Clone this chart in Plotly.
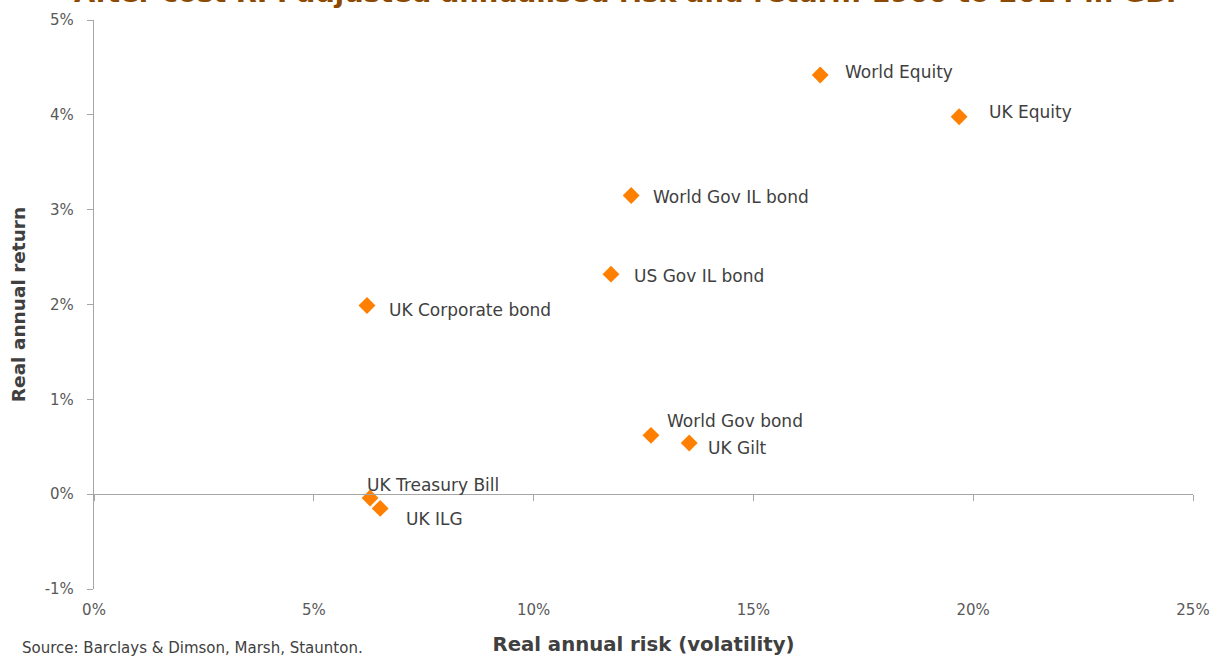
import plotly.graph_objects as go

assets = ["World Equity", "UK Equity", "World Gov IL bond", "US Gov IL bond",
          "UK Corporate bond", "World Gov bond", "UK Gilt", "UK Treasury Bill", "UK ILG"]
risk = [16.52, 19.68, 12.22, 11.76, 6.21, 12.67, 13.54, 6.28, 6.51]
ret = [4.42, 3.98, 3.15, 2.32, 1.99, 0.62, 0.54, -0.04, -0.15]

x_ticks = [0, 5, 10, 15, 20, 25]
x_tick_labels = ["0%", "5%", "10%", "15%", "20%", "25%"]
y_ticks = [-1, 0, 1, 2, 3, 4, 5]
y_tick_labels = ["-1%", "0%", "1%", "2%", "3%", "4%", "5%"]

# label offsets (pixels) for readability
label_dx = [23, 28, 20, 21, 20, 14, 17, -5, 24]
label_dy = [3, 5, -2, -2, -5, 14, -5, 13, -11]

FONT = "DejaVu Sans"

fig = go.Figure()
fig.add_trace(go.Scatter(
    x=risk, y=ret, mode="markers",
    marker=dict(symbol="diamond", size=13, color="#FF7F00"),
    hovertext=assets, showlegend=False,
))

# invisible trace on secondary x axis (zero line with ticks)
fig.add_trace(go.Scatter(x=[0, 25], y=[0, 0], xaxis="x2", mode="markers",
                         marker=dict(opacity=0), showlegend=False, hoverinfo="skip"))

for name, xv, yv, dx, dy in zip(assets, risk, ret, label_dx, label_dy):
    fig.add_annotation(x=xv, y=yv, text=name, showarrow=False,
                       xanchor="left", yanchor="middle", xshift=dx, yshift=dy,
                       font=dict(family=FONT, size=17, color="#404040"))

fig.add_annotation(xref="paper", yref="paper", x=-0.0673, y=-0.104,
                   xanchor="left", yanchor="middle", showarrow=False,
                   text="Source: Barclays & Dimson, Marsh, Staunton.",
                   font=dict(family=FONT, size=15, color="#404040"))

# title partially above the page edge, as in the reference
fig.add_annotation(xref="paper", yref="paper", x=0.4877, y=1.0176,
                   xanchor="center", yanchor="bottom", showarrow=False,
                   text="<b>After cost RPI adjusted annualised risk and return: 1900 to 2014 in GBP</b>",
                   font=dict(family=FONT, size=27.4, color="#8B4A00"))

fig.update_layout(
    width=1220, height=659,
    margin=dict(l=94, r=27, t=20, b=70, autoexpand=False),
    paper_bgcolor="white", plot_bgcolor="white",
    xaxis=dict(range=[0, 25], tickvals=x_ticks, ticktext=x_tick_labels,
               showline=False, showgrid=False, zeroline=False, ticks="",
               ticklabelstandoff=10, automargin=False,
               tickfont=dict(family=FONT, size=15, color="#595959"),
               title=dict(text="<b>Real annual risk (volatility)</b>", standoff=19,
                          font=dict(family=FONT, size=19.7, color="#404040"))),
    xaxis2=dict(range=[0, 25], tickvals=x_ticks, showticklabels=False,
                overlaying="x", anchor="free", position=1/6,
                showline=True, linecolor="#A6A6A6", linewidth=1.3,
                ticks="outside", ticklen=6, tickcolor="#A6A6A6", tickwidth=1.3,
                showgrid=False, zeroline=False),
    yaxis=dict(range=[-1, 5], tickvals=y_ticks, ticktext=y_tick_labels,
               showline=True, linecolor="#A6A6A6", linewidth=1.3,
               ticks="outside", ticklen=6, tickcolor="#A6A6A6", tickwidth=1.3,
               ticklabelstandoff=10, automargin=False,
               showgrid=False, zeroline=False,
               tickfont=dict(family=FONT, size=15, color="#595959"),
               title=dict(text="<b>Real annual return</b>", standoff=14,
                          font=dict(family=FONT, size=18.5, color="#404040"))),
)

fig.write_html("out.html", config={"displayModeBar": False},
               post_script="document.body.style.margin='0px';")
